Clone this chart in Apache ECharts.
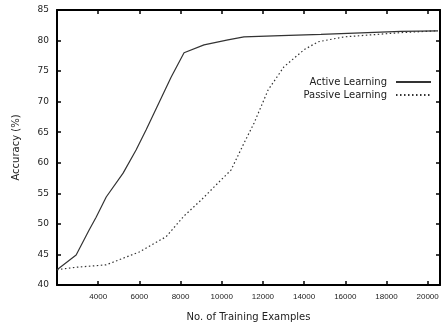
<!DOCTYPE html>
<html><head><meta charset="utf-8">
<script src="https://cdn.jsdelivr.net/npm/echarts@6/dist/echarts.min.js"></script>
<style>html,body{margin:0;padding:0;background:#fff}#c{width:443px;height:327px}</style>
</head><body><div id="c"></div>
<script>
const activeX = [2000, 2930, 3560, 3900, 4390, 5210, 5840, 6330, 7540, 8170, 9140, 10300, 11080, 12880, 14820, 18700, 20500];
const activeY = [42.5, 44.9, 49.0, 51.1, 54.4, 58.3, 62.1, 65.4, 74.0, 78.0, 79.3, 80.1, 80.6, 80.8, 81.0, 81.5, 81.6];
const passiveX = [2000, 2930, 4390, 5990, 7300, 8170, 9000, 9970, 10450, 11080, 11570, 12050, 12250, 13020, 14000, 14680, 15940, 18700, 20500];
const passiveY = [42.5, 42.9, 43.3, 45.4, 47.9, 51.3, 53.9, 57.2, 58.8, 63.2, 66.5, 70.3, 71.9, 75.7, 78.5, 79.8, 80.6, 81.3, 81.6];
const xTicks = [4000, 6000, 8000, 10000, 12000, 14000, 16000, 18000, 20000];
const yTicks = [40, 45, 50, 55, 60, 65, 70, 75, 80, 85];
const seriesNames = ['Active Learning', 'Passive Learning'];

const font = 'DejaVu Sans';
const zip = (xs, ys) => xs.map((x, i) => [x, ys[i]]);
const chart = echarts.init(document.getElementById('c'));
const baseX = {
  type: 'value', min: 2000, max: 20600, interval: 2000,
  axisLine: {lineStyle: {color: '#000', width: 2}},
  axisTick: {inside: true, length: 4, lineStyle: {color: '#000', width: 1.5}},
  splitLine: {show: false}
};
const baseY = {
  type: 'value', min: 40, max: 85, interval: 5,
  axisLine: {lineStyle: {color: '#000', width: 2}},
  axisTick: {inside: true, length: 4, lineStyle: {color: '#000', width: 1.5}},
  splitLine: {show: false}
};
const legendBase = {
  right: 11, align: 'right', orient: 'vertical',
  itemWidth: 35, itemHeight: 8, itemGap: 2, padding: 0,
  itemStyle: {color: 'transparent', borderColor: 'transparent', borderWidth: 0},
  textStyle: {fontFamily: font, fontSize: 10, color: '#222', padding: [0, 4, 0, 0]}
};
chart.setOption({
  animation: false,
  grid: {left: 57, right: 3, top: 10, bottom: 42},
  xAxis: [
    Object.assign({}, baseX, {
      position: 'bottom',
      name: 'No. of Training Examples', nameLocation: 'middle', nameGap: 27,
      nameTextStyle: {fontFamily: font, fontSize: 10, color: '#222'},
      axisLabel: {fontFamily: 'Liberation Sans', fontSize: 8, color: '#222', margin: 8,
        formatter: v => xTicks.includes(v) ? String(v) : ''}
    }),
    Object.assign({}, baseX, {position: 'top', axisLabel: {show: false}})
  ],
  yAxis: [
    Object.assign({}, baseY, {
      position: 'left',
      name: 'Accuracy (%)', nameLocation: 'middle', nameGap: 36,
      nameTextStyle: {fontFamily: font, fontSize: 10, color: '#222'},
      axisLabel: {fontFamily: font, fontSize: 9, color: '#222', margin: 8,
        formatter: v => yTicks.includes(v) ? String(v) : ''}
    }),
    Object.assign({}, baseY, {position: 'right', axisLabel: {show: false}})
  ],
  legend: [
    Object.assign({}, legendBase, {data: [seriesNames[0]], top: 77}),
    Object.assign({}, legendBase, {data: [seriesNames[1]], top: 90})
  ],
  series: [
    {name: seriesNames[0], type: 'line', data: zip(activeX, activeY), symbol: 'none',
     lineStyle: {color: '#333', width: 1.2, type: 'solid'}, itemStyle: {color: '#333'}},
    {name: seriesNames[1], type: 'line', data: zip(passiveX, passiveY), symbol: 'none',
     lineStyle: {color: '#333', width: 1.2, type: [1.5, 2.5]}, itemStyle: {color: '#333'}}
  ]
});
</script></body></html>
